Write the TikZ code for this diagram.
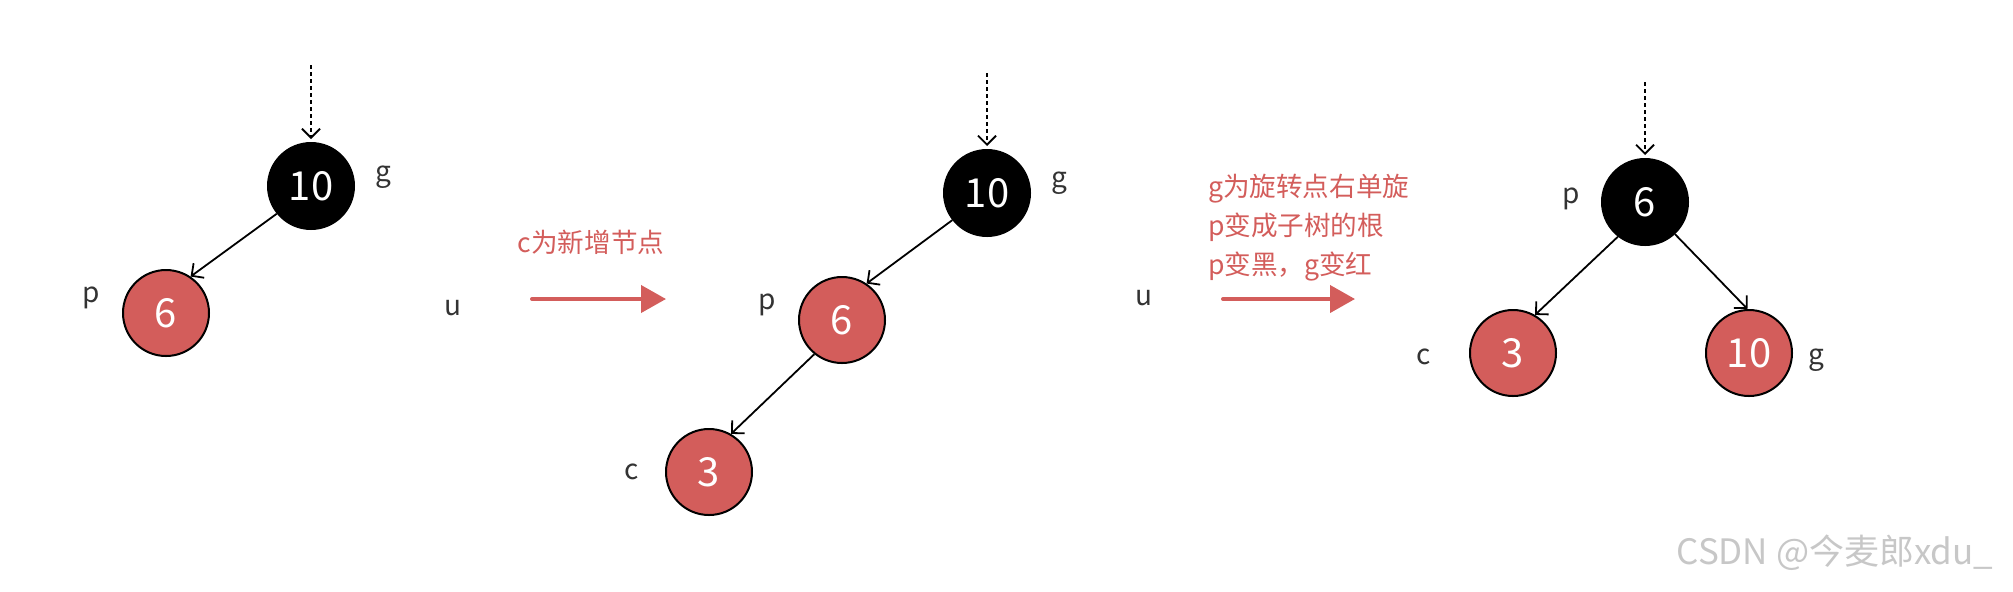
\documentclass[tikz,border=0pt]{standalone}
\usepackage{fontspec}
\setmainfont{Noto Sans CJK SC}
\usetikzlibrary{positioning, arrows.meta}
\definecolor{rbred}{RGB}{211,93,91}
\definecolor{lblgray}{RGB}{51,51,51}

\begin{document}
\begin{tikzpicture}[
    x=0.5pt, y=-0.5pt,      % 1 unit = 1 pixel, y downwards
    rbnode/.style={circle, draw, line width=1pt, minimum size=43pt, inner sep=0pt,
                   text=white, font=\fontsize{20}{20}\selectfont},
    blacknode/.style={rbnode, fill=black},
    rednode/.style={rbnode, fill=rbred},
    lbl/.style={text=lblgray, font=\fontsize{14}{14}\selectfont},
    note/.style={text=rbred, font=\fontsize{13.3}{19.5}\selectfont, align=left},
    edge/.style={-{Straight Barb[length=4.5pt,width=9pt]}, line width=0.9pt},
    entry/.style={edge, dash pattern=on 2pt off 1.5pt, shorten >=1.5pt},
    move/.style={-{Triangle[length=12.5pt,width=13.5pt]}, line width=2pt, draw=rbred, line cap=round}
]
    \useasboundingbox (0,0) rectangle (2013,591);

    % --- 1: p red, g black ---
    \node [blacknode] (g1) at (311,186) {10};
    \node [rednode]   (p1) at (166,313) {6};
    \coordinate (in1) at (311,65);
    \draw [entry] (in1) -- (g1);
    \draw [edge] (g1.-141) -- (p1.56);
    \node [lbl] (lg1) at (383,177) {g};
    \node [lbl] (lp1) at (91,298) {p};
    \node [lbl] (lu1) at (453,308) {u};

    % --- step 1 ---
    \node [note] (note1) at (591,242) {c为新增节点};
    \coordinate (s1) at (532,299);
    \coordinate (e1) at (666,299);
    \draw [move] (s1) -- (e1);

    % --- 2: c inserted below p ---
    \node [blacknode] (g2) at (987,193) {10};
    \node [rednode]   (p2) at (842,320) {6};
    \node [rednode]   (c2) at (709,472) {3};
    \coordinate (in2) at (987,73);
    \draw [entry] (in2) -- (g2);
    \draw [edge] (g2.-142) -- (p2.56);
    \draw [edge] (p2.-129) -- (c2.60);
    \node [lbl] (lg2) at (1059,183) {g};
    \node [lbl] (lp2) at (767,305) {p};
    \node [lbl] (lc2) at (632,472) {c};
    \node [lbl] (lu2) at (1144,298) {u};

    % --- step 2 ---
    \node [note, anchor=west] (note2) at (1201,228) {g为旋转点右单旋\\p变成子树的根\\p变黑，g变红};
    \coordinate (s2) at (1223,299);
    \coordinate (e2) at (1355,299);
    \draw [move] (s2) -- (e2);

    % --- 3: after rotation ---
    \node [blacknode] (p3) at (1645,202) {6};
    \node [rednode]   (c3) at (1513,353) {3};
    \node [rednode]   (g3) at (1749,353) {10};
    \coordinate (in3) at (1645,82);
    \draw [entry] (in3) -- (p3);
    \draw [edge] (p3.-128) -- (c3.60);
    \draw [edge] (p3.-47) -- (g3.92);
    \node [lbl] (lp3) at (1571,199) {p};
    \node [lbl] (lc3) at (1424,357) {c};
    \node [lbl] (lg3) at (1816,360) {g};

    % watermark
    \node [text=black!22, font=\fontsize{17.5}{17.5}\selectfont] (wm) at (1835,553) {CSDN @今麦郎xdu\_};

\end{tikzpicture}
\end{document}
